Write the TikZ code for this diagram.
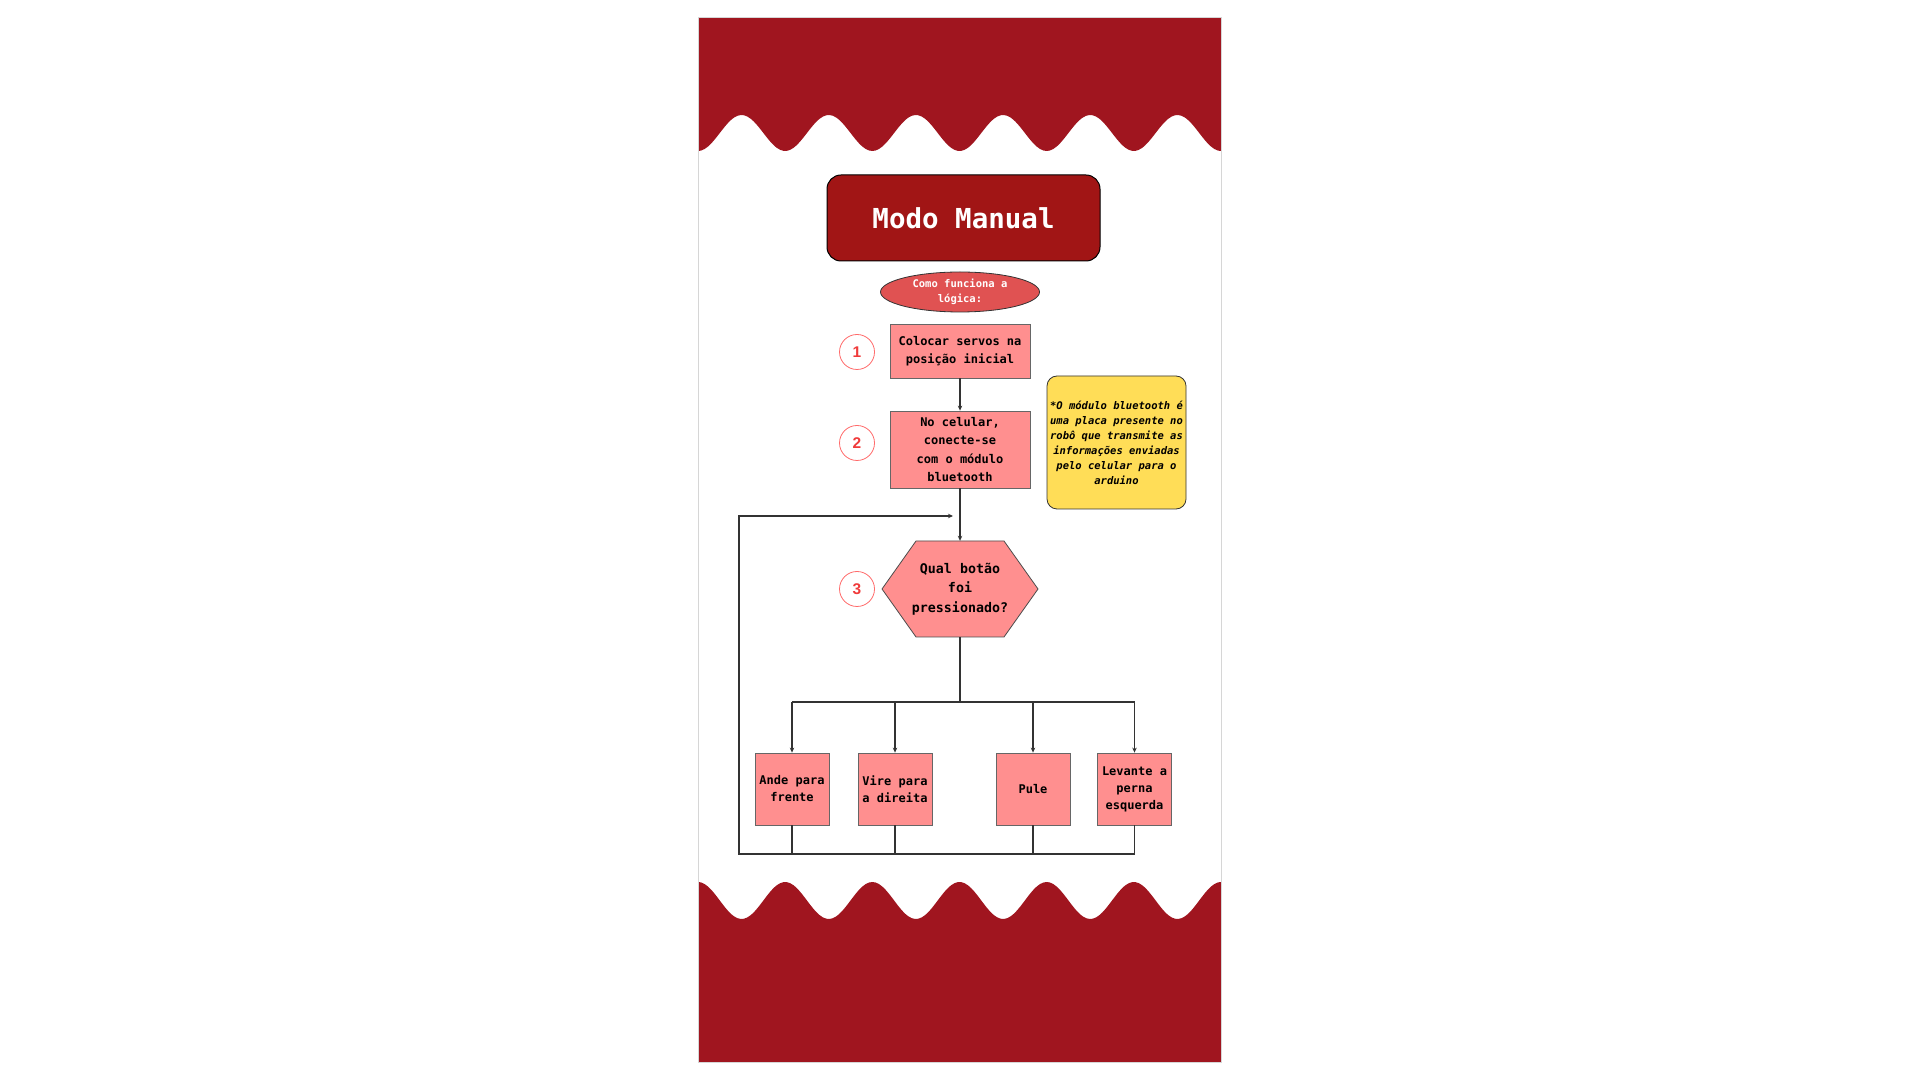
\documentclass[tikz,border=0pt]{standalone}
\usepackage{fontspec}
\newfontfamily\monofont{DejaVu Sans Mono}
\newfontfamily\numfont{Liberation Sans}
\usepackage{tikz}
\usetikzlibrary{shapes.geometric,arrows.meta}
\definecolor{bandred}{HTML}{A0151F}
\definecolor{titlered}{HTML}{A11515}
\definecolor{ovalred}{HTML}{E05252}
\definecolor{boxpink}{HTML}{FF8F8F}
\definecolor{noteyellow}{HTML}{FFDD57}
\definecolor{ringred}{HTML}{FF6B6B}
\definecolor{numred}{HTML}{F03A3A}
\definecolor{linegray}{HTML}{333333}
\definecolor{cardgray}{HTML}{D6D6D6}
\tikzset{
  stepbox/.style={rectangle, fill=boxpink, draw=black!60, line width=0.8pt,
    minimum width=140pt, inner sep=2pt, align=center,
    font=\monofont\bfseries\fontsize{12}{18.5}\selectfont},
  actbox/.style={stepbox, minimum width=74pt, minimum height=72pt, inner sep=1pt,
    font=\monofont\bfseries\fontsize{12}{17}\selectfont},
  stepnum/.style={circle, draw=ringred, fill=white, line width=0.8pt, minimum size=35pt,
    inner sep=0pt, text=numred, font=\numfont\bfseries\fontsize{15.5}{15.5}\selectfont},
  flow/.style={draw=linegray, line width=1.5pt},
  arr/.style={-{Stealth[length=5pt,width=4.5pt]}}
}
\begin{document}
\begin{tikzpicture}[x=1pt,y=1pt]
\useasboundingbox (0,0) rectangle (1920,1080);
\fill[white] (0,0) rectangle (1920,1080);
%card and wavy bands
\fill[white] (698,18) rectangle (1221,1062);
\fill[bandred] (698,1062) -- plot[domain=698:1221,samples=160,smooth] (\x,{947-18*cos(4.13*(\x-698))}) -- (1221,1062) -- cycle;
\fill[bandred] (698,18) -- plot[domain=698:1221,samples=160,smooth] (\x,{179.5+18.5*cos(4.13*(\x-698))}) -- (1221,18) -- cycle;
\draw[cardgray, line width=1pt] (698,18) rectangle (1221,1062);
%title and subtitle
\node[rectangle, rounded corners=14pt, fill=titlered, draw=black, line width=1pt,
  minimum width=273pt, minimum height=86pt, text=white,
  font=\monofont\bfseries\fontsize{27.5}{30}\selectfont] (title) at (963.5,862) {Modo Manual};
\node[ellipse, fill=ovalred, draw=linegray, line width=0.8pt, minimum width=159pt,
  minimum height=40pt, inner sep=0pt, align=center, text=white,
  font=\monofont\bfseries\fontsize{10.5}{15}\selectfont] (logic) at (960,788) {Como funciona a\\lógica:};
%steps
\node[stepbox, minimum height=54pt] (servos) at (960,729) {Colocar servos na\\posição inicial};
\node[stepbox, minimum height=77pt] (celular) at (960,630.5) {No celular,\\conecte-se\\com o módulo\\bluetooth};
\fill[boxpink, draw=black!70, line width=0.8pt] (882,491) -- (916,539) -- (1004,539) -- (1038,491) -- (1004,443) -- (916,443) -- cycle;
\node[minimum width=156pt, minimum height=96pt, inner sep=0pt, align=center,
  font=\monofont\bfseries\fontsize{13.3}{19.7}\selectfont] (botao) at (960,491) {Qual botão\\foi\\pressionado?};
\node[stepnum] (one) at (857,728) {1};
\node[stepnum] (two) at (857,637) {2};
\node[stepnum] (three) at (857,491) {3};
%note
\node[rectangle, rounded corners=10pt, fill=noteyellow, draw=linegray, line width=0.8pt,
  minimum width=139pt, minimum height=133pt, inner sep=1pt, align=center,
  font=\monofont\bfseries\itshape\fontsize{10.5}{15}\selectfont] (nota) at (1116.5,637.5)
  {*O módulo bluetooth é\\uma placa presente no\\robô que transmite as\\informações enviadas\\pelo celular para o\\arduino};
%actions
\foreach \name/\xpos/\txt in {ande/792/{Ande para\\frente}, vire/895/{Vire para\\a direita},
  pule/1033/{Pule}, levante/1134.5/{Levante a\\perna\\esquerda}}{
  \node[actbox] (\name) at (\xpos,291) {\txt};
}
%connectors
\coordinate (split) at (960,378);
\coordinate (join) at (739,226);
\coordinate (back) at (739,564);
\coordinate (backend) at (953,564);
\draw[flow,arr] (servos) -- (celular);
\draw[flow,arr] (celular) -- (botao);
\draw[flow] (botao.south) -- (split);
\draw[flow] (ande |- split) -- (levante |- split);
\foreach \name in {ande,vire,pule,levante}{
  \draw[flow,arr] (\name |- split) -- (\name.north);
  \draw[flow] (\name.south) -- (\name |- join);
}
\draw[flow,arr] (levante |- join) -- (join) -- (back) -- (backend);
\end{tikzpicture}
\end{document}
